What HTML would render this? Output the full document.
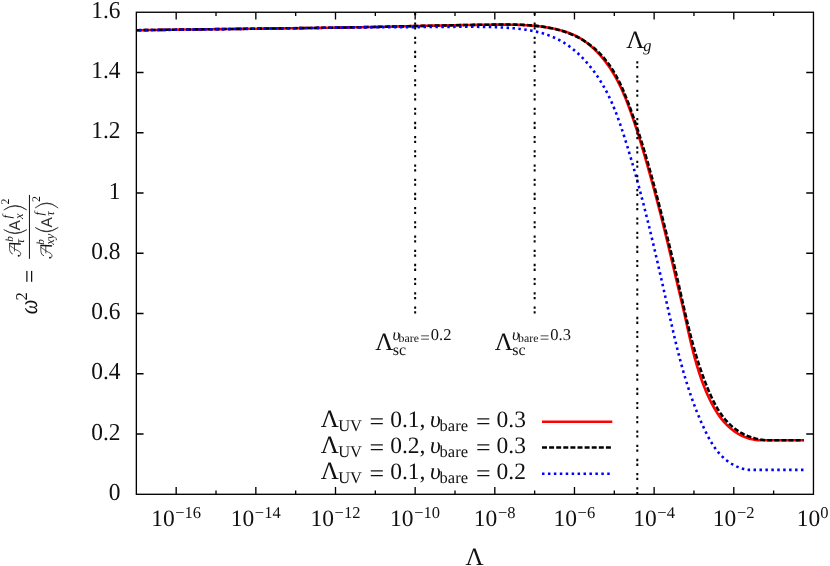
<!DOCTYPE html>
<html><head><meta charset="utf-8"><title>plot</title>
<style>
html,body{margin:0;padding:0;background:#fff;}
body{width:830px;height:566px;overflow:hidden;}
svg{display:block;}
text{text-rendering:geometricPrecision;}
text{font-family:"Liberation Serif",serif;fill:#111;}
.m{font-size:23.5px;}
.s{font-size:16.5px;}
.L{font-size:25px;}
.ss{font-size:11.8px;}
.i{font-style:italic;}
.sans{font-family:"Liberation Sans",sans-serif;fill:#333;}
</style></head><body>
<svg width="830" height="566" viewBox="0 0 830 566">
<rect x="0" y="0" width="830" height="566" fill="#ffffff"/>
<g style="opacity:0.999">

<g fill="none" stroke-linejoin="round">
<path d="M136.47,30.30 L138.36,30.27 L140.26,30.24 L142.15,30.20 L144.04,30.17 L145.94,30.14 L147.83,30.10 L149.73,30.07 L151.62,30.04 L153.52,30.01 L155.41,29.98 L157.31,29.95 L159.20,29.92 L161.10,29.89 L162.99,29.86 L164.89,29.83 L166.78,29.80 L168.68,29.78 L170.58,29.75 L172.47,29.72 L174.37,29.69 L176.27,29.66 L178.17,29.64 L180.06,29.61 L181.96,29.59 L183.86,29.56 L185.76,29.53 L187.66,29.51 L189.55,29.48 L191.45,29.46 L193.35,29.43 L195.25,29.41 L197.15,29.38 L199.05,29.36 L200.95,29.34 L202.85,29.31 L204.75,29.29 L206.65,29.26 L208.55,29.24 L210.45,29.22 L212.35,29.19 L214.25,29.17 L216.15,29.15 L218.05,29.13 L219.95,29.10 L221.85,29.08 L223.75,29.06 L225.65,29.04 L227.55,29.01 L229.45,28.99 L231.35,28.97 L233.25,28.95 L235.15,28.92 L237.06,28.90 L238.96,28.88 L240.86,28.86 L242.76,28.84 L244.66,28.82 L246.56,28.79 L248.46,28.77 L250.36,28.75 L252.27,28.73 L254.17,28.71 L256.07,28.68 L257.97,28.66 L259.87,28.64 L261.77,28.62 L263.68,28.60 L265.58,28.57 L267.48,28.55 L269.38,28.53 L271.28,28.51 L273.18,28.48 L275.09,28.46 L276.99,28.44 L278.89,28.42 L280.79,28.39 L282.69,28.37 L284.59,28.35 L286.50,28.32 L288.40,28.30 L290.30,28.28 L292.20,28.25 L294.10,28.23 L296.00,28.20 L297.90,28.18 L299.80,28.15 L301.71,28.13 L303.61,28.10 L305.51,28.08 L307.41,28.05 L309.31,28.03 L311.21,28.00 L313.11,27.97 L315.01,27.95 L316.91,27.92 L318.81,27.89 L320.71,27.87 L322.61,27.84 L324.51,27.81 L326.41,27.78 L328.31,27.75 L330.21,27.73 L332.11,27.70 L334.01,27.67 L335.91,27.64 L337.81,27.61 L339.71,27.58 L341.61,27.54 L343.51,27.51 L345.41,27.48 L347.30,27.45 L349.20,27.42 L351.10,27.38 L353.00,27.35 L354.90,27.32 L356.79,27.28 L358.69,27.25 L360.59,27.21 L362.49,27.18 L364.38,27.14 L366.28,27.10 L368.18,27.07 L370.07,27.03 L371.97,26.99 L373.87,26.95 L375.76,26.91 L377.66,26.87 L379.55,26.83 L381.45,26.79 L383.34,26.75 L385.24,26.71 L387.13,26.67 L389.03,26.63 L390.92,26.59 L392.82,26.54 L394.71,26.50 L396.61,26.46 L398.50,26.42 L400.40,26.37 L402.29,26.33 L404.18,26.29 L406.08,26.24 L407.97,26.20 L409.87,26.16 L411.76,26.11 L413.66,26.07 L415.55,26.03 L417.45,25.98 L419.34,25.94 L421.24,25.90 L423.14,25.86 L425.03,25.81 L426.93,25.77 L428.82,25.73 L430.72,25.69 L432.62,25.65 L434.52,25.61 L436.41,25.56 L438.31,25.52 L440.21,25.49 L442.11,25.45 L444.01,25.41 L445.91,25.37 L447.81,25.33 L449.71,25.29 L451.61,25.26 L453.51,25.22 L455.41,25.19 L457.31,25.15 L459.21,25.12 L461.12,25.09 L463.02,25.05 L464.92,25.02 L466.83,24.99 L468.73,24.96 L470.64,24.93 L472.55,24.90 L474.45,24.88 L476.36,24.85 L478.27,24.83 L480.18,24.80 L482.09,24.78 L484.00,24.76 L485.91,24.74 L487.82,24.72 L489.73,24.70 L491.65,24.68 L493.56,24.67 L495.48,24.65 L497.39,24.64 L499.31,24.63 L501.22,24.63 L503.14,24.62 L505.05,24.63 L506.97,24.64 L508.88,24.65 L510.79,24.68 L512.71,24.71 L514.62,24.75 L516.53,24.80 L518.43,24.85 L520.34,24.92 L522.24,25.00 L524.14,25.09 L526.04,25.20 L527.94,25.31 L529.83,25.45 L531.72,25.59 L533.61,25.75 L535.49,25.93 L537.37,26.12 L539.24,26.33 L541.12,26.56 L542.98,26.80 L544.85,27.07 L546.70,27.35 L548.56,27.66 L550.40,27.99 L552.25,28.34 L554.08,28.71 L555.91,29.10 L557.74,29.53 L559.55,29.98 L561.36,30.46 L563.16,30.98 L564.94,31.53 L566.71,32.11 L568.48,32.74 L570.22,33.41 L571.96,34.12 L573.67,34.87 L575.38,35.67 L577.06,36.53 L578.73,37.43 L580.37,38.39 L582.00,39.40 L583.61,40.46 L585.20,41.57 L586.76,42.72 L588.30,43.92 L589.82,45.16 L591.31,46.43 L592.77,47.74 L594.21,49.09 L595.62,50.46 L597.00,51.85 L598.36,53.27 L599.68,54.71 L600.97,56.17 L602.23,57.64 L603.46,59.12 L604.65,60.62 L605.82,62.13 L606.95,63.65 L608.06,65.19 L609.13,66.74 L610.19,68.29 L611.21,69.86 L612.21,71.44 L613.18,73.04 L614.14,74.64 L615.06,76.25 L615.97,77.87 L616.86,79.51 L617.72,81.15 L618.56,82.80 L619.39,84.47 L620.20,86.14 L620.99,87.82 L621.77,89.51 L622.53,91.20 L623.27,92.91 L624.00,94.62 L624.72,96.34 L625.43,98.07 L626.12,99.81 L626.81,101.55 L627.49,103.30 L628.15,105.06 L628.81,106.82 L629.47,108.59 L630.11,110.37 L630.76,112.15 L631.39,113.93 L632.02,115.73 L632.65,117.52 L633.26,119.32 L633.88,121.13 L634.49,122.94 L635.09,124.76 L635.69,126.57 L636.28,128.40 L636.87,130.22 L637.46,132.05 L638.04,133.88 L638.61,135.72 L639.19,137.56 L639.75,139.39 L640.32,141.24 L640.88,143.08 L641.44,144.92 L641.99,146.77 L642.54,148.62 L643.09,150.47 L643.63,152.32 L644.17,154.16 L644.71,156.01 L645.24,157.86 L645.77,159.71 L646.30,161.56 L646.83,163.41 L647.35,165.26 L647.88,167.11 L648.40,168.95 L648.91,170.79 L649.43,172.64 L649.94,174.48 L650.46,176.32 L650.96,178.16 L651.47,180.00 L651.98,181.83 L652.48,183.67 L652.98,185.51 L653.48,187.34 L653.98,189.17 L654.47,191.01 L654.96,192.84 L655.45,194.67 L655.94,196.50 L656.43,198.34 L656.91,200.17 L657.39,202.00 L657.87,203.82 L658.35,205.65 L658.83,207.48 L659.30,209.31 L659.77,211.14 L660.24,212.97 L660.71,214.80 L661.17,216.62 L661.63,218.45 L662.09,220.28 L662.55,222.11 L663.01,223.94 L663.46,225.76 L663.91,227.59 L664.36,229.42 L664.81,231.25 L665.26,233.08 L665.70,234.91 L666.14,236.74 L666.59,238.57 L667.03,240.40 L667.46,242.23 L667.90,244.07 L668.34,245.90 L668.78,247.73 L669.21,249.57 L669.65,251.40 L670.08,253.24 L670.52,255.07 L670.95,256.91 L671.38,258.75 L671.82,260.59 L672.25,262.43 L672.69,264.27 L673.12,266.12 L673.56,267.96 L673.99,269.81 L674.43,271.65 L674.87,273.50 L675.31,275.35 L675.75,277.20 L676.19,279.06 L676.63,280.91 L677.07,282.76 L677.52,284.62 L677.96,286.48 L678.41,288.34 L678.85,290.20 L679.30,292.06 L679.74,293.92 L680.19,295.79 L680.63,297.65 L681.07,299.51 L681.51,301.38 L681.95,303.24 L682.38,305.11 L682.82,306.97 L683.25,308.83 L683.67,310.70 L684.10,312.56 L684.52,314.42 L684.93,316.28 L685.35,318.15 L685.77,320.00 L686.18,321.86 L686.59,323.72 L687.01,325.58 L687.42,327.43 L687.83,329.29 L688.25,331.14 L688.67,332.99 L689.09,334.83 L689.51,336.68 L689.93,338.52 L690.36,340.36 L690.80,342.20 L691.23,344.04 L691.68,345.87 L692.12,347.70 L692.58,349.53 L693.04,351.36 L693.51,353.18 L693.98,355.00 L694.46,356.82 L694.96,358.64 L695.46,360.45 L695.97,362.26 L696.49,364.07 L697.02,365.88 L697.56,367.68 L698.12,369.48 L698.68,371.28 L699.26,373.08 L699.86,374.87 L700.46,376.67 L701.08,378.45 L701.72,380.24 L702.37,382.02 L703.04,383.81 L703.72,385.59 L704.42,387.36 L705.13,389.14 L705.87,390.91 L706.62,392.68 L707.39,394.44 L708.18,396.21 L709.00,397.96 L709.83,399.72 L710.68,401.46 L711.56,403.19 L712.47,404.91 L713.40,406.61 L714.35,408.29 L715.34,409.96 L716.35,411.60 L717.40,413.22 L718.47,414.81 L719.58,416.38 L720.72,417.91 L721.90,419.41 L723.11,420.88 L724.35,422.31 L725.64,423.70 L726.96,425.05 L728.31,426.36 L729.69,427.62 L731.11,428.83 L732.57,430.00 L734.05,431.11 L735.57,432.17 L737.12,433.17 L738.70,434.11 L740.31,434.99 L741.96,435.81 L743.63,436.56 L745.33,437.24 L747.06,437.86 L748.81,438.41 L750.60,438.89 L752.40,439.31 L754.23,439.67 L756.08,439.97 L757.95,440.23 L759.84,440.30 L761.74,440.30 L763.65,440.30 L765.57,440.30 L767.51,440.30 L769.45,440.30 L771.40,440.30 L773.35,440.30 L775.30,440.30 L777.26,440.30 L779.21,440.30 L781.16,440.30 L783.11,440.30 L785.05,440.30 L786.98,440.30 L788.90,440.30 L790.81,440.30 L792.71,440.30 L794.59,440.30 L796.45,440.30 L798.30,440.30 L800.12,440.30 L801.92,440.30 L803.69,440.30" stroke="#ff0000" stroke-width="2.6"/>
<path d="M136.45,30.27 L138.34,30.24 L140.23,30.21 L142.12,30.18 L144.01,30.15 L145.91,30.12 L147.80,30.09 L149.69,30.06 L151.58,30.03 L153.47,30.00 L155.36,29.97 L157.26,29.95 L159.15,29.92 L161.04,29.89 L162.93,29.86 L164.83,29.84 L166.72,29.81 L168.61,29.78 L170.50,29.76 L172.40,29.73 L174.29,29.70 L176.18,29.68 L178.08,29.65 L179.97,29.63 L181.87,29.60 L183.76,29.58 L185.65,29.55 L187.55,29.53 L189.44,29.50 L191.34,29.48 L193.23,29.45 L195.13,29.43 L197.02,29.40 L198.92,29.38 L200.81,29.36 L202.71,29.33 L204.60,29.31 L206.50,29.28 L208.39,29.26 L210.29,29.24 L212.18,29.21 L214.08,29.19 L215.98,29.17 L217.87,29.14 L219.77,29.12 L221.66,29.10 L223.56,29.08 L225.46,29.05 L227.35,29.03 L229.25,29.01 L231.14,28.98 L233.04,28.96 L234.94,28.94 L236.83,28.92 L238.73,28.89 L240.63,28.87 L242.52,28.85 L244.42,28.83 L246.32,28.80 L248.21,28.78 L250.11,28.76 L252.01,28.73 L253.90,28.71 L255.80,28.69 L257.70,28.67 L259.59,28.64 L261.49,28.62 L263.39,28.60 L265.28,28.57 L267.18,28.55 L269.08,28.53 L270.97,28.50 L272.87,28.48 L274.77,28.46 L276.66,28.43 L278.56,28.41 L280.46,28.39 L282.35,28.36 L284.25,28.34 L286.15,28.31 L288.04,28.29 L289.94,28.26 L291.84,28.24 L293.73,28.21 L295.63,28.19 L297.53,28.16 L299.42,28.14 L301.32,28.11 L303.22,28.09 L305.11,28.06 L307.01,28.04 L308.91,28.01 L310.80,27.98 L312.70,27.96 L314.59,27.93 L316.49,27.90 L318.39,27.87 L320.28,27.85 L322.18,27.82 L324.07,27.79 L325.97,27.76 L327.86,27.73 L329.76,27.70 L331.66,27.68 L333.55,27.65 L335.45,27.62 L337.34,27.59 L339.24,27.56 L341.13,27.53 L343.02,27.49 L344.92,27.46 L346.81,27.43 L348.71,27.40 L350.60,27.37 L352.50,27.34 L354.39,27.30 L356.28,27.27 L358.18,27.24 L360.07,27.20 L361.97,27.17 L363.86,27.13 L365.75,27.10 L367.65,27.06 L369.54,27.03 L371.43,26.99 L373.32,26.96 L375.22,26.92 L377.11,26.88 L379.00,26.84 L380.89,26.81 L382.78,26.77 L384.68,26.73 L386.57,26.69 L388.46,26.65 L390.35,26.61 L392.24,26.57 L394.14,26.53 L396.03,26.49 L397.92,26.45 L399.81,26.41 L401.70,26.37 L403.59,26.33 L405.48,26.29 L407.38,26.25 L409.27,26.21 L411.16,26.17 L413.05,26.12 L414.94,26.08 L416.83,26.04 L418.73,26.00 L420.62,25.96 L422.51,25.92 L424.40,25.88 L426.30,25.84 L428.19,25.80 L430.08,25.76 L431.98,25.72 L433.87,25.68 L435.76,25.64 L437.66,25.60 L439.55,25.56 L441.44,25.52 L443.34,25.48 L445.23,25.44 L447.13,25.40 L449.03,25.36 L450.92,25.33 L452.82,25.29 L454.71,25.25 L456.61,25.22 L458.51,25.18 L460.41,25.14 L462.30,25.11 L464.20,25.07 L466.10,25.04 L468.00,25.01 L469.90,24.97 L471.80,24.94 L473.70,24.91 L475.60,24.88 L477.50,24.85 L479.40,24.82 L481.31,24.79 L483.21,24.76 L485.11,24.73 L487.02,24.70 L488.92,24.68 L490.83,24.65 L492.73,24.63 L494.64,24.60 L496.55,24.58 L498.45,24.56 L500.36,24.54 L502.27,24.53 L504.17,24.52 L506.08,24.52 L507.99,24.53 L509.89,24.54 L511.80,24.56 L513.70,24.59 L515.60,24.63 L517.50,24.68 L519.40,24.74 L521.30,24.81 L523.19,24.89 L525.09,24.99 L526.98,25.10 L528.87,25.23 L530.75,25.38 L532.64,25.54 L534.52,25.71 L536.40,25.91 L538.27,26.13 L540.14,26.36 L542.01,26.62 L543.87,26.90 L545.74,27.20 L547.59,27.52 L549.44,27.87 L551.29,28.24 L553.14,28.63 L554.98,29.06 L556.81,29.51 L558.63,29.99 L560.45,30.49 L562.26,31.03 L564.06,31.60 L565.85,32.20 L567.63,32.83 L569.39,33.49 L571.15,34.19 L572.88,34.93 L574.61,35.70 L576.31,36.50 L578.00,37.35 L579.67,38.23 L581.33,39.15 L582.96,40.12 L584.57,41.11 L586.16,42.15 L587.73,43.22 L589.27,44.33 L590.79,45.47 L592.29,46.65 L593.76,47.86 L595.20,49.09 L596.61,50.36 L597.99,51.66 L599.35,52.99 L600.67,54.34 L601.96,55.72 L603.22,57.13 L604.44,58.56 L605.64,60.01 L606.80,61.49 L607.94,62.99 L609.04,64.51 L610.12,66.05 L611.17,67.61 L612.20,69.19 L613.20,70.79 L614.17,72.40 L615.13,74.04 L616.05,75.68 L616.96,77.35 L617.85,79.02 L618.71,80.71 L619.56,82.42 L620.39,84.13 L621.20,85.86 L621.99,87.60 L622.77,89.34 L623.53,91.09 L624.28,92.86 L625.01,94.63 L625.74,96.40 L626.45,98.18 L627.15,99.97 L627.83,101.75 L628.51,103.55 L629.19,105.34 L629.85,107.13 L630.51,108.93 L631.16,110.72 L631.81,112.52 L632.45,114.32 L633.08,116.11 L633.71,117.91 L634.33,119.70 L634.95,121.50 L635.56,123.30 L636.17,125.09 L636.77,126.89 L637.37,128.69 L637.96,130.49 L638.55,132.28 L639.13,134.08 L639.71,135.88 L640.28,137.68 L640.85,139.48 L641.42,141.29 L641.98,143.09 L642.53,144.89 L643.08,146.69 L643.63,148.50 L644.18,150.31 L644.72,152.11 L645.26,153.92 L645.79,155.73 L646.32,157.54 L646.85,159.35 L647.37,161.16 L647.89,162.97 L648.41,164.79 L648.92,166.60 L649.44,168.42 L649.95,170.24 L650.45,172.06 L650.96,173.88 L651.46,175.70 L651.96,177.52 L652.45,179.35 L652.95,181.17 L653.44,183.00 L653.93,184.82 L654.42,186.65 L654.90,188.48 L655.39,190.31 L655.87,192.14 L656.35,193.97 L656.83,195.81 L657.31,197.64 L657.79,199.47 L658.26,201.31 L658.73,203.14 L659.21,204.98 L659.68,206.82 L660.15,208.65 L660.62,210.49 L661.09,212.33 L661.56,214.17 L662.02,216.01 L662.49,217.85 L662.96,219.69 L663.42,221.53 L663.89,223.38 L664.35,225.22 L664.82,227.06 L665.28,228.90 L665.75,230.75 L666.21,232.59 L666.67,234.44 L667.13,236.28 L667.59,238.13 L668.05,239.97 L668.51,241.82 L668.97,243.66 L669.43,245.51 L669.88,247.35 L670.34,249.20 L670.79,251.04 L671.24,252.89 L671.69,254.74 L672.14,256.58 L672.58,258.43 L673.03,260.28 L673.47,262.12 L673.92,263.97 L674.36,265.81 L674.79,267.66 L675.23,269.50 L675.66,271.35 L676.10,273.19 L676.53,275.04 L676.95,276.88 L677.38,278.73 L677.80,280.57 L678.22,282.42 L678.64,284.26 L679.06,286.10 L679.48,287.95 L679.89,289.79 L680.31,291.63 L680.72,293.47 L681.14,295.31 L681.55,297.15 L681.96,298.99 L682.38,300.83 L682.79,302.67 L683.21,304.51 L683.63,306.35 L684.05,308.19 L684.47,310.03 L684.89,311.87 L685.32,313.70 L685.74,315.54 L686.17,317.38 L686.61,319.21 L687.04,321.05 L687.48,322.88 L687.92,324.72 L688.37,326.55 L688.82,328.39 L689.28,330.22 L689.74,332.05 L690.20,333.88 L690.67,335.72 L691.15,337.55 L691.63,339.38 L692.12,341.21 L692.61,343.04 L693.11,344.86 L693.61,346.69 L694.13,348.52 L694.65,350.34 L695.17,352.16 L695.71,353.99 L696.25,355.81 L696.80,357.63 L697.36,359.44 L697.93,361.26 L698.50,363.07 L699.09,364.88 L699.68,366.69 L700.29,368.49 L700.90,370.30 L701.52,372.10 L702.16,373.90 L702.80,375.69 L703.46,377.49 L704.12,379.28 L704.80,381.06 L705.49,382.85 L706.19,384.63 L706.90,386.40 L707.63,388.18 L708.36,389.94 L709.11,391.71 L709.88,393.47 L710.65,395.23 L711.45,396.97 L712.26,398.71 L713.09,400.44 L713.95,402.15 L714.83,403.85 L715.73,405.52 L716.66,407.18 L717.61,408.82 L718.60,410.44 L719.61,412.03 L720.67,413.59 L721.75,415.12 L722.87,416.62 L724.03,418.09 L725.23,419.53 L726.47,420.92 L727.74,422.29 L729.05,423.61 L730.40,424.89 L731.78,426.13 L733.20,427.32 L734.65,428.47 L736.14,429.57 L737.66,430.63 L739.21,431.63 L740.80,432.58 L742.41,433.48 L744.06,434.32 L745.73,435.11 L747.44,435.84 L749.17,436.52 L750.93,437.13 L752.71,437.70 L754.52,438.21 L756.35,438.67 L758.19,439.08 L760.06,439.45 L761.94,439.77 L763.83,440.05 L765.74,440.29 L767.66,440.30 L769.58,440.30 L771.51,440.30 L773.45,440.30 L775.39,440.30 L777.33,440.30 L779.27,440.30 L781.21,440.30 L783.15,440.30 L785.08,440.30 L787.01,440.30 L788.92,440.30 L790.82,440.30 L792.71,440.30 L794.59,440.30 L796.45,440.30 L798.30,440.30 L800.12,440.30 L801.92,440.30 L803.70,440.30" stroke="#000000" stroke-width="2.6" stroke-dasharray="5 2.1"/>
<path d="M803.47,469.90 L801.73,469.90 L799.96,469.90 L798.17,469.90 L796.34,469.90 L794.49,469.90 L792.61,469.90 L790.72,469.90 L788.80,469.90 L786.86,469.90 L784.91,469.90 L782.94,469.90 L780.96,469.90 L778.97,469.90 L776.97,469.90 L774.96,469.90 L772.94,469.90 L770.92,469.90 L768.90,469.90 L766.88,469.90 L764.86,469.90 L762.85,469.90 L760.85,469.90 L758.85,469.90 L756.87,469.90 L754.90,469.90 L752.94,469.90 L751.00,469.90 L749.09,469.90 L747.19,469.66 L745.32,469.32 L743.48,468.89 L741.66,468.38 L739.88,467.79 L738.12,467.13 L736.40,466.39 L734.70,465.58 L733.05,464.70 L731.42,463.75 L729.84,462.74 L728.29,461.67 L726.78,460.54 L725.31,459.35 L723.88,458.11 L722.50,456.82 L721.16,455.48 L719.86,454.09 L718.61,452.66 L717.40,451.20 L716.23,449.69 L715.11,448.15 L714.01,446.57 L712.95,444.96 L711.93,443.33 L710.93,441.67 L709.96,439.99 L709.02,438.29 L708.10,436.57 L707.21,434.83 L706.33,433.09 L705.47,431.33 L704.62,429.57 L703.79,427.80 L702.97,426.02 L702.16,424.25 L701.37,422.47 L700.58,420.68 L699.81,418.89 L699.05,417.10 L698.31,415.30 L697.57,413.50 L696.84,411.70 L696.13,409.89 L695.42,408.08 L694.73,406.27 L694.04,404.45 L693.37,402.63 L692.71,400.80 L692.05,398.98 L691.41,397.15 L690.77,395.31 L690.14,393.48 L689.53,391.64 L688.92,389.80 L688.32,387.95 L687.72,386.11 L687.14,384.26 L686.56,382.40 L685.99,380.55 L685.43,378.69 L684.88,376.84 L684.33,374.98 L683.79,373.11 L683.26,371.25 L682.73,369.38 L682.21,367.51 L681.69,365.64 L681.18,363.77 L680.68,361.90 L680.18,360.02 L679.69,358.15 L679.20,356.27 L678.72,354.39 L678.24,352.51 L677.77,350.63 L677.30,348.75 L676.84,346.87 L676.37,344.98 L675.92,343.10 L675.46,341.21 L675.01,339.33 L674.57,337.44 L674.12,335.55 L673.68,333.66 L673.24,331.78 L672.81,329.89 L672.37,328.00 L671.94,326.11 L671.51,324.22 L671.08,322.34 L670.65,320.45 L670.22,318.56 L669.80,316.67 L669.37,314.78 L668.95,312.90 L668.52,311.01 L668.10,309.12 L667.68,307.24 L667.25,305.35 L666.83,303.47 L666.41,301.58 L665.99,299.70 L665.56,297.82 L665.14,295.93 L664.72,294.05 L664.29,292.17 L663.87,290.29 L663.45,288.40 L663.02,286.52 L662.60,284.64 L662.18,282.76 L661.75,280.88 L661.33,279.00 L660.90,277.12 L660.47,275.24 L660.05,273.36 L659.62,271.48 L659.19,269.60 L658.76,267.72 L658.33,265.84 L657.90,263.96 L657.47,262.08 L657.04,260.21 L656.60,258.33 L656.17,256.45 L655.73,254.57 L655.30,252.69 L654.86,250.81 L654.42,248.93 L653.98,247.05 L653.54,245.18 L653.09,243.30 L652.65,241.42 L652.20,239.54 L651.75,237.66 L651.30,235.78 L650.85,233.90 L650.40,232.02 L649.95,230.14 L649.49,228.26 L649.03,226.38 L648.57,224.50 L648.11,222.62 L647.65,220.74 L647.18,218.86 L646.71,216.98 L646.24,215.10 L645.77,213.21 L645.30,211.33 L644.82,209.45 L644.34,207.57 L643.86,205.68 L643.38,203.80 L642.89,201.91 L642.40,200.03 L641.91,198.14 L641.42,196.26 L640.92,194.37 L640.42,192.49 L639.92,190.60 L639.42,188.71 L638.91,186.83 L638.40,184.94 L637.89,183.05 L637.37,181.17 L636.86,179.28 L636.34,177.40 L635.81,175.51 L635.29,173.63 L634.76,171.75 L634.23,169.87 L633.69,167.99 L633.15,166.11 L632.61,164.23 L632.07,162.36 L631.53,160.49 L630.98,158.62 L630.43,156.75 L629.87,154.88 L629.31,153.02 L628.75,151.15 L628.19,149.29 L627.63,147.44 L627.06,145.58 L626.49,143.73 L625.91,141.89 L625.33,140.04 L624.75,138.20 L624.17,136.36 L623.58,134.53 L622.99,132.70 L622.40,130.87 L621.79,129.05 L621.19,127.23 L620.57,125.42 L619.95,123.61 L619.32,121.81 L618.68,120.01 L618.03,118.21 L617.37,116.42 L616.70,114.64 L616.02,112.86 L615.32,111.08 L614.61,109.31 L613.89,107.55 L613.15,105.79 L612.40,104.04 L611.64,102.29 L610.85,100.55 L610.05,98.82 L609.24,97.09 L608.40,95.37 L607.55,93.65 L606.67,91.94 L605.78,90.24 L604.86,88.55 L603.92,86.86 L602.96,85.18 L601.98,83.51 L600.97,81.84 L599.94,80.19 L598.88,78.54 L597.80,76.90 L596.70,75.27 L595.57,73.65 L594.42,72.05 L593.25,70.46 L592.05,68.89 L590.83,67.34 L589.58,65.80 L588.32,64.28 L587.03,62.78 L585.72,61.30 L584.39,59.85 L583.03,58.41 L581.66,57.01 L580.26,55.63 L578.84,54.27 L577.40,52.95 L575.94,51.65 L574.46,50.38 L572.96,49.15 L571.44,47.94 L569.90,46.78 L568.34,45.64 L566.76,44.55 L565.16,43.49 L563.54,42.46 L561.90,41.48 L560.24,40.54 L558.57,39.64 L556.87,38.78 L555.16,37.97 L553.43,37.19 L551.68,36.46 L549.92,35.76 L548.14,35.10 L546.35,34.48 L544.54,33.89 L542.72,33.34 L540.89,32.82 L539.04,32.33 L537.19,31.87 L535.32,31.44 L533.44,31.04 L531.55,30.66 L529.66,30.32 L527.75,29.99 L525.84,29.69 L523.92,29.42 L521.99,29.16 L520.06,28.93 L518.12,28.71 L516.18,28.51 L514.23,28.33 L512.28,28.16 L510.33,28.01 L508.37,27.88 L506.42,27.75 L504.46,27.64 L502.50,27.53 L500.54,27.44 L498.59,27.35 L496.63,27.27 L494.68,27.20 L492.72,27.13 L490.77,27.07 L488.82,27.02 L486.87,26.97 L484.92,26.93 L482.97,26.89 L481.02,26.86 L479.08,26.84 L477.13,26.81 L475.18,26.80 L473.24,26.78 L471.30,26.78 L469.35,26.77 L467.41,26.77 L465.47,26.77 L463.53,26.77 L461.59,26.78 L459.65,26.79 L457.71,26.80 L455.77,26.81 L453.83,26.83 L451.89,26.84 L449.96,26.86 L448.02,26.87 L446.08,26.89 L444.15,26.91 L442.21,26.93 L440.28,26.94 L438.34,26.96 L436.41,26.97 L434.48,26.99 L432.54,27.00 L430.61,27.01 L428.68,27.02 L426.75,27.04 L424.81,27.05 L422.88,27.06 L420.95,27.07 L419.02,27.08 L417.09,27.09 L415.16,27.10 L413.23,27.11 L411.30,27.12 L409.37,27.12 L407.43,27.13 L405.50,27.14 L403.57,27.15 L401.64,27.16 L399.71,27.17 L397.78,27.18 L395.85,27.18 L393.92,27.19 L391.99,27.20 L390.06,27.21 L388.13,27.22 L386.20,27.23 L384.27,27.24 L382.33,27.25 L380.40,27.26 L378.47,27.28 L376.54,27.29 L374.61,27.30 L372.67,27.32 L370.74,27.33 L368.81,27.34 L366.88,27.36 L364.94,27.37 L363.01,27.39 L361.07,27.41 L359.14,27.42 L357.21,27.44 L355.27,27.46 L353.34,27.48 L351.40,27.49 L349.47,27.51 L347.53,27.53 L345.59,27.55 L343.66,27.57 L341.72,27.59 L339.79,27.61 L337.85,27.63 L335.91,27.66 L333.98,27.68 L332.04,27.70 L330.11,27.72 L328.17,27.75 L326.23,27.77 L324.29,27.79 L322.36,27.82 L320.42,27.84 L318.48,27.86 L316.54,27.89 L314.61,27.91 L312.67,27.94 L310.73,27.96 L308.79,27.99 L306.85,28.02 L304.92,28.04 L302.98,28.07 L301.04,28.09 L299.10,28.12 L297.16,28.15 L295.22,28.17 L293.29,28.20 L291.35,28.23 L289.41,28.25 L287.47,28.28 L285.53,28.31 L283.59,28.34 L281.65,28.36 L279.71,28.39 L277.77,28.42 L275.84,28.45 L273.90,28.48 L271.96,28.50 L270.02,28.53 L268.08,28.56 L266.14,28.59 L264.20,28.62 L262.26,28.65 L260.32,28.67 L258.39,28.70 L256.45,28.73 L254.51,28.76 L252.57,28.79 L250.63,28.81 L248.69,28.84 L246.75,28.87 L244.81,28.90 L242.88,28.92 L240.94,28.95 L239.00,28.98 L237.06,29.01 L235.12,29.03 L233.19,29.06 L231.25,29.09 L229.31,29.12 L227.37,29.14 L225.43,29.17 L223.50,29.20 L221.56,29.22 L219.62,29.25 L217.68,29.27 L215.75,29.30 L213.81,29.32 L211.87,29.35 L209.94,29.38 L208.00,29.40 L206.06,29.42 L204.13,29.45 L202.19,29.47 L200.25,29.50 L198.32,29.52 L196.38,29.54 L194.45,29.57 L192.51,29.59 L190.58,29.61 L188.64,29.63 L186.71,29.65 L184.77,29.67 L182.84,29.69 L180.90,29.72 L178.97,29.73 L177.04,29.75 L175.10,29.77 L173.17,29.79 L171.24,29.81 L169.30,29.83 L167.37,29.85 L165.44,29.86 L163.51,29.88 L161.58,29.90 L159.64,29.91 L157.71,29.93 L155.78,29.94 L153.85,29.96 L151.92,29.97 L149.99,29.98 L148.06,30.00 L146.13,30.01 L144.20,30.02 L142.27,30.03 L140.34,30.04 L138.41,30.05 L136.49,30.06" stroke="#0000ff" stroke-width="2.6" stroke-dasharray="2.5 3.43"/>
</g>
<g stroke="#000" stroke-width="2.0" stroke-dasharray="2.3 2.47 2.3 7.13" fill="none">
<path d="M415.16,313.5 V12.25"/>
<path d="M534.64,313.5 V12.25"/>
<path d="M637.3,494.3 V60.7"/>
</g>
<g stroke="#000" stroke-width="1.35" fill="none" stroke-linecap="butt">
<rect x="136.35" y="12.25" width="677.10" height="482.05"/>
<path d="M176.18,494.3 v-7.2 M176.18,12.25 v7.2 M216.01,494.3 v-3.8 M216.01,12.25 v3.8 M255.84,494.3 v-7.2 M255.84,12.25 v7.2 M295.67,494.3 v-3.8 M295.67,12.25 v3.8 M335.50,494.3 v-7.2 M335.50,12.25 v7.2 M375.33,494.3 v-3.8 M375.33,12.25 v3.8 M415.16,494.3 v-7.2 M415.16,12.25 v7.2 M454.99,494.3 v-3.8 M454.99,12.25 v3.8 M494.81,494.3 v-7.2 M494.81,12.25 v7.2 M534.64,494.3 v-3.8 M534.64,12.25 v3.8 M574.47,494.3 v-7.2 M574.47,12.25 v7.2 M614.30,494.3 v-3.8 M614.30,12.25 v3.8 M654.13,494.3 v-7.2 M654.13,12.25 v7.2 M693.96,494.3 v-3.8 M693.96,12.25 v3.8 M733.79,494.3 v-7.2 M733.79,12.25 v7.2 M773.62,494.3 v-3.8 M773.62,12.25 v3.8 M136.35,434.04 h7.2 M813.45,434.04 h-7.2 M136.35,373.79 h7.2 M813.45,373.79 h-7.2 M136.35,313.53 h7.2 M813.45,313.53 h-7.2 M136.35,253.28 h7.2 M813.45,253.28 h-7.2 M136.35,193.02 h7.2 M813.45,193.02 h-7.2 M136.35,132.76 h7.2 M813.45,132.76 h-7.2 M136.35,72.51 h7.2 M813.45,72.51 h-7.2"/>
</g>
<text class="m" transform="translate(120.6,499.90) scale(0.965,1)" style="font-size:24.3px" text-anchor="end">0</text>
<text class="m" transform="translate(120.6,439.64) scale(0.965,1)" style="font-size:24.3px" text-anchor="end">0.2</text>
<text class="m" transform="translate(120.6,379.39) scale(0.965,1)" style="font-size:24.3px" text-anchor="end">0.4</text>
<text class="m" transform="translate(120.6,319.13) scale(0.965,1)" style="font-size:24.3px" text-anchor="end">0.6</text>
<text class="m" transform="translate(120.6,258.88) scale(0.965,1)" style="font-size:24.3px" text-anchor="end">0.8</text>
<text class="m" transform="translate(120.6,198.62) scale(0.965,1)" style="font-size:24.3px" text-anchor="end">1</text>
<text class="m" transform="translate(120.6,138.36) scale(0.965,1)" style="font-size:24.3px" text-anchor="end">1.2</text>
<text class="m" transform="translate(120.6,78.11) scale(0.965,1)" style="font-size:24.3px" text-anchor="end">1.4</text>
<text class="m" transform="translate(120.6,17.85) scale(0.965,1)" style="font-size:24.3px" text-anchor="end">1.6</text>
<text class="m" x="162.88" y="525.8" text-anchor="middle">10</text>
<text class="s" x="175.18" y="518.1">−</text>
<text class="s" x="184.58" y="518.1">16</text>
<text class="m" x="242.54" y="525.8" text-anchor="middle">10</text>
<text class="s" x="254.84" y="518.1">−</text>
<text class="s" x="264.24" y="518.1">14</text>
<text class="m" x="322.20" y="525.8" text-anchor="middle">10</text>
<text class="s" x="334.50" y="518.1">−</text>
<text class="s" x="343.90" y="518.1">12</text>
<text class="m" x="401.86" y="525.8" text-anchor="middle">10</text>
<text class="s" x="414.16" y="518.1">−</text>
<text class="s" x="423.56" y="518.1">10</text>
<text class="m" x="485.61" y="525.8" text-anchor="middle">10</text>
<text class="s" x="497.91" y="518.1">−</text>
<text class="s" x="507.31" y="518.1">8</text>
<text class="m" x="565.27" y="525.8" text-anchor="middle">10</text>
<text class="s" x="577.57" y="518.1">−</text>
<text class="s" x="586.97" y="518.1">6</text>
<text class="m" x="644.93" y="525.8" text-anchor="middle">10</text>
<text class="s" x="657.23" y="518.1">−</text>
<text class="s" x="666.63" y="518.1">4</text>
<text class="m" x="724.59" y="525.8" text-anchor="middle">10</text>
<text class="s" x="736.89" y="518.1">−</text>
<text class="s" x="746.29" y="518.1">2</text>
<text class="m" x="808.60" y="525.8" text-anchor="middle">10</text>
<text class="s" x="820.15" y="518.1">0</text>
<text class="L" x="474.6" y="564.8" text-anchor="middle">Λ</text>
<text class="L" x="626.2" y="47.7">Λ</text>
<text class="s i" x="643.3" y="51.3">g</text>
<text class="L" x="375.30" y="350.4">Λ</text>
<text class="s" x="392.80" y="354.5" style="font-size:16px">sc</text>
<text class="s i" x="392.40" y="340.3">υ</text>
<text class="ss" x="398.60" y="342.2">bare</text>
<text class="s" x="420.20" y="342.7" textLength="9.6" lengthAdjust="spacingAndGlyphs">=</text>
<text class="s" x="430.80" y="339.7">0.2</text>
<text class="L" x="494.79" y="350.4">Λ</text>
<text class="s" x="512.29" y="354.5" style="font-size:16px">sc</text>
<text class="s i" x="511.89" y="340.3">υ</text>
<text class="ss" x="518.09" y="342.2">bare</text>
<text class="s" x="539.69" y="342.7" textLength="9.6" lengthAdjust="spacingAndGlyphs">=</text>
<text class="s" x="550.29" y="339.7">0.3</text>
<text class="L" x="320.7" y="427.4">Λ</text>
<text class="s" x="338.2" y="430.59999999999997">UV</text>
<text class="m" x="369.4" y="428.59999999999997" textLength="14.6" lengthAdjust="spacingAndGlyphs">=</text>
<text class="m" x="390.2" y="427.4">0.1,</text>
<text class="m i" x="430.0" y="427.4">υ</text>
<text class="s" x="439.6" y="430.59999999999997">bare</text>
<text class="m" x="476.0" y="428.59999999999997" textLength="14.6" lengthAdjust="spacingAndGlyphs">=</text>
<text class="m" x="496.6" y="427.4">0.3</text>
<text class="L" x="320.7" y="453.4">Λ</text>
<text class="s" x="338.2" y="456.59999999999997">UV</text>
<text class="m" x="369.4" y="454.59999999999997" textLength="14.6" lengthAdjust="spacingAndGlyphs">=</text>
<text class="m" x="390.2" y="453.4">0.2,</text>
<text class="m i" x="430.0" y="453.4">υ</text>
<text class="s" x="439.6" y="456.59999999999997">bare</text>
<text class="m" x="476.0" y="454.59999999999997" textLength="14.6" lengthAdjust="spacingAndGlyphs">=</text>
<text class="m" x="496.6" y="453.4">0.3</text>
<text class="L" x="320.7" y="479.4">Λ</text>
<text class="s" x="338.2" y="482.59999999999997">UV</text>
<text class="m" x="369.4" y="480.59999999999997" textLength="14.6" lengthAdjust="spacingAndGlyphs">=</text>
<text class="m" x="390.2" y="479.4">0.1,</text>
<text class="m i" x="430.0" y="479.4">υ</text>
<text class="s" x="439.6" y="482.59999999999997">bare</text>
<text class="m" x="476.0" y="480.59999999999997" textLength="14.6" lengthAdjust="spacingAndGlyphs">=</text>
<text class="m" x="496.6" y="479.4">0.2</text>
<g fill="none" stroke-width="2.6">
<path d="M542,421.7 H612.3" stroke="#ff0000"/>
<path d="M542,447.5 H612.3" stroke="#000" stroke-dasharray="5 2.1"/>
<path d="M542,473.8 H612.3" stroke="#0000ff" stroke-dasharray="2.5 3.43"/>
</g>
<g transform="translate(0,320.0) rotate(-90)">
<text class="m i" x="5.80" y="36.50" style="font-size:25.5px" textLength="14.6" lengthAdjust="spacingAndGlyphs">ω</text>
<text class="s" x="19.40" y="27.20"  >2</text>
<text class="m" x="37.00" y="37.40"  >=</text>
<path d="M61.20,29.45 H125.10" stroke="#111" stroke-width="1.0" fill="none"/>
<g transform="translate(63.70,9.40) scale(0.1320,0.1130)" fill="none" stroke="#111" stroke-linecap="round" stroke-linejoin="round">
<path d="M97,3 L93,96" stroke-width="1.5" vector-effect="non-scaling-stroke"/>
<path d="M97,3 C80,0 62,0 50,2 C35,5 22,14 19,27 l5,-7" stroke-width="0.75" vector-effect="non-scaling-stroke"/>
<path d="M82,3 C72,20 63,34 56,45 C48,60 42,80 35,90 C28,100 18,102 10,98 C3,94 0,87 3,80" stroke-width="0.75" vector-effect="non-scaling-stroke"/>
<path d="M3,80 l3,3" stroke-width="1.5" vector-effect="non-scaling-stroke"/>
<path d="M90,45 L40,45" stroke-width="0.75" vector-effect="non-scaling-stroke"/>
</g>
<text class="ss i" x="76.60" y="23.90" style="font-size:12.5px" >τ</text>
<text class="ss i" x="78.20" y="12.70" style="font-size:11.0px" >b</text>
<path d="M90.40,3.70 Q82.35,15.30 90.40,26.90 Q83.65,15.30 90.40,3.70 Z" fill="#111" stroke="#111" stroke-width="0.45" stroke-linejoin="round"/>
<text class="sans" x="89.60" y="20.20" style="font-size:15.5px" >A</text>
<text class="ss i" x="101.00" y="23.20" style="font-size:12.5px" >x</text>
<text class="ss i" x="101.40" y="11.40" style="font-size:12.5px" >f</text>
<path d="M110.00,3.70 Q119.05,15.30 110.00,26.90 Q117.75,15.30 110.00,3.70 Z" fill="#111" stroke="#111" stroke-width="0.45" stroke-linejoin="round"/>
<text class="ss" x="115.40" y="9.00" style="font-size:11.8px" >2</text>
<g transform="translate(61.80,40.70) scale(0.1320,0.1130)" fill="none" stroke="#111" stroke-linecap="round" stroke-linejoin="round">
<path d="M97,3 L93,96" stroke-width="1.5" vector-effect="non-scaling-stroke"/>
<path d="M97,3 C80,0 62,0 50,2 C35,5 22,14 19,27 l5,-7" stroke-width="0.75" vector-effect="non-scaling-stroke"/>
<path d="M82,3 C72,20 63,34 56,45 C48,60 42,80 35,90 C28,100 18,102 10,98 C3,94 0,87 3,80" stroke-width="0.75" vector-effect="non-scaling-stroke"/>
<path d="M3,80 l3,3" stroke-width="1.5" vector-effect="non-scaling-stroke"/>
<path d="M90,45 L40,45" stroke-width="0.75" vector-effect="non-scaling-stroke"/>
</g>
<text class="ss i" x="75.20" y="54.40" style="font-size:12.5px" >xy</text>
<text class="ss i" x="75.20" y="44.10" style="font-size:11.0px" >b</text>
<path d="M92.60,35.10 Q83.75,46.70 92.60,58.30 Q85.05,46.70 92.60,35.10 Z" fill="#111" stroke="#111" stroke-width="0.45" stroke-linejoin="round"/>
<text class="sans" x="92.60" y="51.50" style="font-size:15.5px" >A</text>
<text class="ss i" x="104.20" y="54.10" style="font-size:12.5px" >τ</text>
<text class="ss i" x="104.40" y="42.80" style="font-size:12.5px" >f</text>
<path d="M112.00,35.10 Q122.25,46.70 112.00,58.30 Q120.95,46.70 112.00,35.10 Z" fill="#111" stroke="#111" stroke-width="0.45" stroke-linejoin="round"/>
<text class="ss" x="118.00" y="40.00" style="font-size:11.8px" >2</text>
</g>
</g></svg></body></html>
